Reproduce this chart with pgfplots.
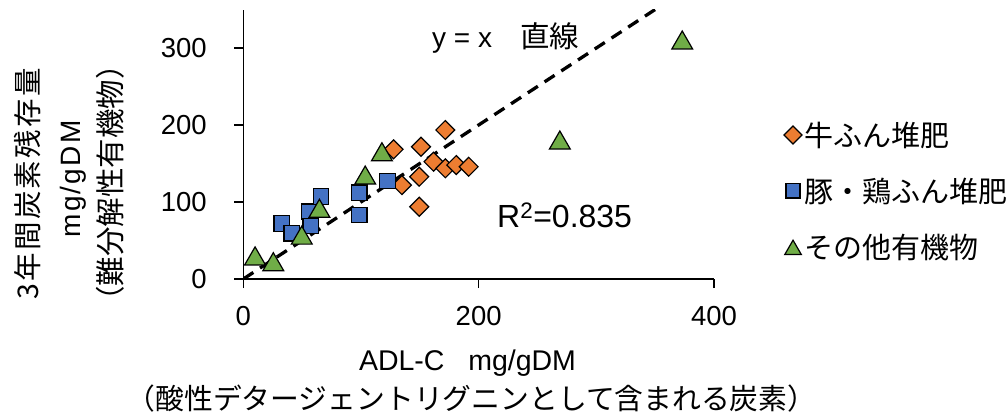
\documentclass[border=0pt]{standalone}
\usepackage{fontspec}
\setmainfont{Liberation Sans}
\newfontfamily\jp{Noto Sans CJK JP}
\usepackage{pgfplots}
\pgfplotsset{compat=1.18}
\definecolor{cOrange}{HTML}{ED7D31}
\definecolor{cBlue}{HTML}{4472C4}
\definecolor{cGreen}{HTML}{70AD47}
\pgfplotsset{mylegimg/.style={legend image code/.code={\draw[mark repeat=2,mark phase=2,##1, every mark/.append style={scale=#1}] plot coordinates {(0pt,0pt) (8pt,0pt) (16pt,0pt)};}}}
\begin{document}
\begin{tikzpicture}
\path[use as bounding box] (0pt,0pt) rectangle (1008pt,418pt);
\begin{axis}[
  at={(243.3pt,139pt)}, anchor=south west,
  scale only axis, width=470.7pt, height=269.5pt,
  xmin=0, xmax=400, ymin=0, ymax=350,
  axis lines*=left,
  axis line style={-, line width=1.5pt, black},
  xtick={0,200,400}, ytick={0,100,200,300},
  tick align=outside, major tick length=9pt,
  tick style={black, line width=1.5pt},
  /pgf/number format/assume math mode=true,
  ticklabel style={font=\fontsize{27.5}{33}\selectfont, black},
  xticklabel style={anchor=center, yshift=-28pt},
  yticklabel style={anchor=east, xshift=-24pt},
  legend style={draw=none, fill=none, font=\jp\fontsize{29}{34}\selectfont,
     at={(axis description cs:1.142,0.327)}, anchor=west,
     row sep=26pt, nodes={inner sep=2pt}},
  legend cell align=left,
  clip=true,
]
% 牛ふん堆肥
\addplot[only marks, mark=square*, mark size=6.7pt,
  mark options={rotate=45, fill=cOrange, draw=black, line width=1.2pt},
  mylegimg=0.95]
coordinates {
(127.7,168.4) (171.7,193.5) (151.0,171.8) (161.7,152.3) (171.7,143.8)
(181.0,148.0) (191.5,145.8) (149.5,132.9) (134.8,122.0) (149.5,93.9)
};
\addlegendentry{牛ふん堆肥}
% 豚・鶏ふん堆肥
\addplot[only marks, mark=square*, mark size=7.8pt,
  mark options={fill=cBlue, draw=black, line width=1.2pt},
  mylegimg=0.9]
coordinates {
(32.7,72.3) (41.2,59.4) (56.2,87.4) (57.4,68.8) (66.1,106.9)
(98.5,112.0) (98.5,83.1) (122.6,127.3)
};
\addlegendentry{豚・鶏ふん堆肥}
% その他有機物
\addplot[only marks, mark=triangle*, mark size=12pt,
  mark options={fill=cGreen, draw=black, line width=1.2pt, yshift=-3pt},
  mylegimg=0.8]
coordinates {
(10.0,30.0) (25.5,22.5) (49.7,57.0) (64.7,91.8) (103.6,135.0)
(117.8,165.3) (269.0,180.5) (373.0,310.4)
};
\addlegendentry{その他有機物}
% y = x
\addplot[forget plot, black, line width=3.3pt, dash pattern=on 12pt off 8pt]
coordinates {(0,0) (400,400)};
\end{axis}
% texts
\node[anchor=base west, inner sep=0pt, font=\fontsize{28}{33}\selectfont] at (432pt,370pt) {y = x};
\node[anchor=base west, inner sep=0pt, font=\jp\fontsize{29.5}{34}\selectfont] at (520pt,370pt) {直線};
\node[anchor=base west, inner sep=0pt, font=\fontsize{32}{38}\selectfont] at (497pt,190pt) {R\textsuperscript{2}=0.835};
\node[anchor=base, inner sep=0pt, font=\fontsize{28.5}{33}\selectfont] at (467.5pt,48pt) {ADL-C\ \ \ mg/gDM};
\node[anchor=base, inner sep=0pt, font=\jp\fontsize{28.8}{34}\selectfont] at (471.5pt,9pt) {（酸性デタージェントリグニンとして含まれる炭素）};
\node[rotate=90, inner sep=0pt, font=\jp\fontsize{28.5}{34}\selectfont\addfontfeature{LetterSpace=8}] at (28pt,234pt) {3年間炭素残存量};
\node[rotate=90, inner sep=0pt, font=\fontsize{28}{33}\selectfont\addfontfeature{LetterSpace=8}] at (73.5pt,239pt) {mg/gDM};
\node[rotate=90, inner sep=0pt, font=\jp\fontsize{29.5}{34}\selectfont] at (110pt,235pt) {（難分解性有機物）};
\end{tikzpicture}
\end{document}
